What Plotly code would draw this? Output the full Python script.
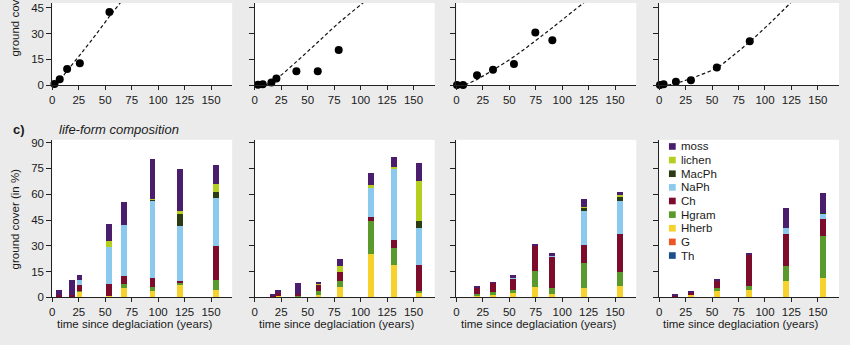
import plotly.graph_objects as go

# ---------------- data ----------------
# top row: total ground cover per site (points) and the dashed fitted trend (read points)
top_age = [
    [2, 7, 14, 26, 54],
    [3, 7.5, 15.7, 20.4, 39.3, 59.5, 79.3],
    [0.6, 6.3, 19.5, 34.6, 54.4, 74.6, 90.7],
    [0.7, 4.2, 15.8, 30, 54.5, 85.6],
]
top_cover = [
    [0.6, 3.4, 9.4, 12.8, 42.6],
    [0.2, 0.5, 1.5, 3.8, 8.1, 8.1, 20.4],
    [0.1, 0.1, 5.8, 8.9, 12.3, 30.6, 26.1],
    [0.1, 0.5, 1.9, 2.9, 10.2, 25.5],
]
fit_age = [
    [4, 14, 26, 40, 54, 64, 70],
    [10, 20, 40, 60, 80, 102, 108],
    [8, 20, 35, 55, 75, 91, 120, 128],
    [8, 20, 35, 55, 70, 86, 105, 124, 132],
]
fit_cover = [
    [0, 8.3, 17.5, 28.5, 40, 47.8, 52.5],
    [0, 3.5, 14, 25.3, 36.6, 47.8, 51],
    [0, 3.5, 8.9, 16.8, 26, 33.6, 47.8, 51.5],
    [0, 1.8, 5, 10.3, 17.3, 25.5, 36.3, 47.8, 52.5],
]

# bottom row: life-form composition (stacked), one list per site
bar_age = [
    [7, 19, 26, 54, 68, 95, 121, 155],
    [3, 8, 17, 22, 41, 60, 80, 110, 131, 155],
    [20, 35, 54, 75, 91, 121, 155],
    [15, 30, 55, 85, 120, 155],
]
Th = [
    [0, 0, 0, 0, 0, 0, 0, 0],
    [0, 0, 0, 0, 0, 0, 0, 0.5, 0, 0],
    [0, 0, 0, 0, 0, 0, 0],
    [0, 0, 0, 0, 0, 0],
]
G = [
    [0.3, 0.3, 0, 0, 0, 0, 0, 0],
    [0, 0, 0, 0.3, 0, 0, 0, 0, 0, 0],
    [0, 0, 0, 0, 0, 0, 0],
    [0.2, 0.3, 0, 0, 0, 0],
]
Hherb = [
    [0.4, 0.4, 3.5, 1.0, 5.7, 4.0, 7.5, 4.2],
    [0.1, 0.1, 0.3, 0.7, 0, 1.5, 6.0, 25.0, 18.7, 2.8],
    [1.2, 1.5, 2.5, 6.0, 1.8, 5.3, 6.8],
    [0.6, 1.2, 3.9, 4.2, 9.5, 11.6],
]
Hgram = [
    [0, 0, 0.5, 0, 2.3, 2.0, 1.5, 6.1],
    [0, 0, 0, 0, 1.2, 2.3, 3.8, 19.0, 10.0, 1.3],
    [0.8, 1.5, 2.1, 9.4, 3.8, 14.7, 7.9],
    [0, 0, 1.8, 2.5, 9.1, 24.1],
]
Ch = [
    [0.9, 1.0, 3.3, 7.0, 4.3, 5.5, 0.5, 19.8],
    [0.1, 0.1, 0.8, 1.5, 0.8, 3.6, 5.1, 2.4, 4.8, 15.1],
    [3.3, 5.6, 6.4, 14.9, 18.0, 10.4, 22.3],
    [0.6, 1.3, 4.1, 18.2, 18.5, 9.8],
]
NaPh = [
    [0, 0, 2.7, 21.3, 30.0, 45.0, 32.0, 27.7],
    [0, 0, 0, 0, 0, 0, 0, 16.8, 41.1, 21.3],
    [0, 0, 0.3, 0, 0.5, 19.8, 19.2],
    [0, 0, 0, 0, 3.4, 3.2],
]
MacPh = [
    [0, 0, 0, 0, 0, 0.5, 7.0, 3.4],
    [0, 0, 0, 0, 0, 0, 0, 0, 0, 4.2],
    [0, 0, 0, 0, 0, 2.3, 2.5],
    [0, 0, 0, 0, 0, 0.6],
]
lichen = [
    [0, 0, 0, 3.8, 0, 0.5, 1.9, 4.9],
    [0, 0, 0, 0, 0, 0.7, 3.4, 1.5, 1.3, 22.9],
    [0, 0, 0, 0, 0, 0.3, 1.3],
    [0, 0, 0, 0, 0, 0],
]
moss = [
    [3.0, 8.5, 3.2, 9.5, 13.2, 23.2, 24.2, 10.7],
    [0.1, 0.1, 1.2, 1.7, 6.3, 0.8, 4.1, 7.5, 5.6, 10.4],
    [1.5, 0.3, 1.7, 0.8, 2.1, 4.4, 1.1],
    [0.7, 0.8, 0.6, 0.6, 11.3, 11.4],
]

# stacking order bottom -> top
categories = ["Th", "G", "Hherb", "Hgram", "Ch", "NaPh", "MacPh", "lichen", "moss"]
series = [Th, G, Hherb, Hgram, Ch, NaPh, MacPh, lichen, moss]
colors = ["#1b4f8a", "#ee5424", "#f7d22c", "#5a9a2c", "#7c0b2c",
          "#8cc9ef", "#2b3c14", "#b4cf1e", "#4b1e6d"]

x_ticks = [0, 25, 50, 75, 100, 125, 150]
top_y_ticks = [0, 15, 30, 45, 60]
bot_y_ticks = [0, 15, 30, 45, 60, 75, 90]

# ---------------- layout geometry (pixels) ----------------
W, H = 850, 345
def fx(p):
    return p / W
def fy(p):
    return 1 - p / H

PANEL_LEFT = [49.5, 252.7, 455.0, 658.5]
PANEL_W = 180.5
TOP_ROW = (0.0, 84.3)
BOT_ROW = (140.5, 302.3)
X_RANGE = [0, 170]
TOP_Y_RANGE = [0, 47.85]
BOT_Y_RANGE = [0, 91.6]

FONT = "Liberation Sans, Arial, sans-serif"
TXT = "#1a1a1a"
AX = "#222222"
BG = "#ebebeb"

fig = go.Figure()

def ref(n, letter):
    return letter if n == 1 else f"{letter}{n}"

for i in range(4):
    t = i + 1
    b = i + 5
    fig.add_trace(go.Scatter(
        x=fit_age[i], y=fit_cover[i], mode="lines",
        line=dict(color="#111111", width=1.2, dash="3.5px,2.5px", shape="spline"),
        xaxis=ref(t, "x"), yaxis=ref(t, "y"), showlegend=False, hoverinfo="skip"))
    fig.add_trace(go.Scatter(
        x=top_age[i], y=top_cover[i], mode="markers",
        marker=dict(color="#000000", size=8), cliponaxis=False,
        xaxis=ref(t, "x"), yaxis=ref(t, "y"), showlegend=False))
    for name, s, c in zip(categories, series, colors):
        fig.add_trace(go.Bar(
            x=bar_age[i], y=s[i], name=name, width=5.6,
            marker=dict(color=c, line=dict(width=0)),
            xaxis=ref(b, "x"), yaxis=ref(b, "y"), showlegend=False))

layout = dict(
    width=W, height=H, margin=dict(l=0, r=0, t=0, b=0),
    paper_bgcolor=BG, plot_bgcolor="white", barmode="stack", bargap=0,
    font=dict(family=FONT, size=11.5, color=TXT), showlegend=False,
)

def xaxis_cfg(i, row):
    x0 = PANEL_LEFT[i]
    return dict(domain=[fx(x0), fx(x0 + PANEL_W)], range=X_RANGE,
                tickvals=x_ticks, showline=True, linecolor=AX, linewidth=1,
                ticks="outside", ticklen=4, tickcolor=AX, tickwidth=1,
                showgrid=False, zeroline=False,
                tickfont=dict(size=11.5, color=TXT, family=FONT),
                anchor=ref(i + 1 + (4 if row == 1 else 0), "y"))

def yaxis_cfg(i, row):
    top, bot = TOP_ROW if row == 0 else BOT_ROW
    return dict(domain=[fy(bot), fy(top)],
                range=TOP_Y_RANGE if row == 0 else BOT_Y_RANGE,
                tickvals=top_y_ticks if row == 0 else bot_y_ticks,
                showticklabels=(i == 0), showline=True, linecolor=AX, linewidth=1,
                ticks="outside", ticklen=5, tickcolor=AX, tickwidth=1,
                showgrid=False, zeroline=False,
                tickfont=dict(size=11.5, color=TXT, family=FONT),
                anchor=ref(i + 1 + (4 if row == 1 else 0), "x"))

for row in range(2):
    for i in range(4):
        n = i + 1 + 4 * row
        layout["xaxis" if n == 1 else f"xaxis{n}"] = xaxis_cfg(i, row)
        layout["yaxis" if n == 1 else f"yaxis{n}"] = yaxis_cfg(i, row)

annotations = []
annotations.append(dict(text="<b>c)</b>", x=fx(8), y=fy(129.5), xref="paper", yref="paper",
                        xanchor="left", yanchor="middle", showarrow=False,
                        font=dict(size=13, color=TXT, family=FONT)))
annotations.append(dict(text="<i>life-form composition</i>", x=fx(54), y=fy(130), xref="paper",
                        yref="paper", xanchor="left", yanchor="middle", showarrow=False,
                        font=dict(size=13, color=TXT, family=FONT)))
for yc in (3.0, 221.5):
    annotations.append(dict(text="ground cover (in %)", x=fx(11.7), y=fy(yc), xref="paper",
                            yref="paper", xanchor="center", yanchor="middle", textangle=-90,
                            showarrow=False, font=dict(size=11.5, color=TXT, family=FONT)))
for i in range(4):
    annotations.append(dict(text="time since deglaciation (years)", x=fx(PANEL_LEFT[i] + 82),
                            y=fy(329.5), xref="paper", yref="paper", xanchor="center",
                            yanchor="middle", showarrow=False,
                            font=dict(size=11.5, color=TXT, family=FONT)))

# legend (top = top of stack)
shapes = []
leg_names = list(reversed(categories))
leg_colors = list(reversed(colors))
for k, (name, c) in enumerate(zip(leg_names, leg_colors)):
    yc = 147.3 + 14.0 * k
    shapes.append(dict(type="rect", xref="paper", yref="paper",
                       x0=fx(668.3), x1=fx(675.1), y0=fy(yc + 3.4), y1=fy(yc - 3.4),
                       fillcolor=c, line=dict(width=0)))
    annotations.append(dict(text=name, x=fx(678.5), y=fy(yc), xref="paper", yref="paper",
                            xanchor="left", yanchor="middle", showarrow=False,
                            font=dict(size=11.5, color=TXT, family=FONT)))

layout["annotations"] = annotations
layout["shapes"] = shapes
fig.update_layout(**layout)

fig.write_html("out.html")
